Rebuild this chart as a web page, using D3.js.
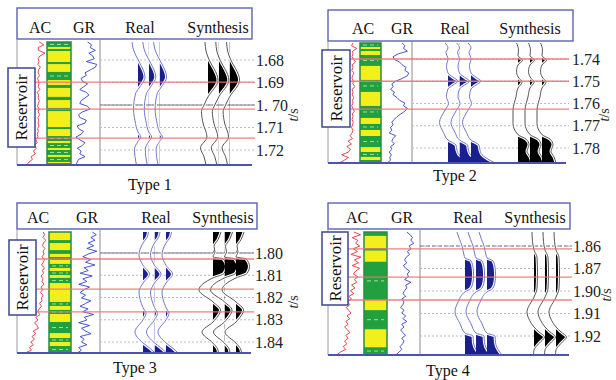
<!DOCTYPE html>
<html>
<head>
<meta charset="utf-8">
<script src="https://cdn.jsdelivr.net/npm/d3@7"></script>
<style>
  html, body { margin: 0; padding: 0; background: #fff; }
  svg { display: block; }
  text { font-family: "Liberation Serif", "DejaVu Serif", serif; }
</style>
</head>
<body>
<svg id="chart" width="616" height="380"></svg>
<script>
// ---------- data ----------
// Depths are measured in tick steps below the first labelled time of each panel.
const trackNames = ["AC", "GR", "Real", "Synthesis"];
const typeLabels = ["Type 1", "Type 2", "Type 3", "Type 4"];
const tickLabels = [
  ["1.68", "1.69", "1. 70", "1.71", "1.72"],
  ["1.74", "1.75", "1.76", "1.77", "1.78"],
  ["1.80", "1.81", "1.82", "1.83", "1.84"],
  ["1.86", "1.87", "1.90", "1.91", "1.92"]
];
// reservoir top / bottom horizons
const horizons = [
  [0.98, 2.18, 3.47],
  [0.0, 1.0, 2.25],
  [0.27, 1.62, 2.65],
  [0.13, 1.38, 2.4]
];
// shale (green) intervals of the lithology column, [top, bottom]
const shale1 = [[-0.8,-0.58],[-0.49,-0.4],[0.09,0.18],[0.53,0.89],[1.11,1.24],[1.64,1.78],[2.13,2.27],[2.98,3.07],[3.38,3.6],[3.69,3.91],[4.0,4.22],[4.31,4.53],[4.58,4.67]];
const shale2 = [[-0.72,-0.54],[-0.45,-0.36],[-0.18,0.31],[0.94,1.48],[2.11,2.65],[2.92,3.19],[3.46,3.96],[4.18,4.4],[4.54,4.67]];
const shale3 = [[-0.58,-0.45],[-0.13,0.04],[0.18,0.31],[0.49,0.67],[0.81,0.99],[1.12,1.35],[2.2,2.38],[2.56,2.74],[3.1,3.6],[3.82,4.0],[4.18,4.49]];
const shale4 = [[-0.62,-0.45],[0.1,0.2],[0.7,2.4],[2.85,3.7],[4.5,4.84]];
// acoustic (AC) log, normalised, evenly sampled top to bottom
const ac1 = [0.75,0.95,0.7,0.72,1.0,0.78,0.7,0.74,0.69,0.8,0.72,0.7,0.76,0.68,0.72,0.74,0.7,0.78,0.66,0.72,0.7,0.75,0.71,0.68,0.74,0.7,0.77,0.69,0.72,0.7,0.74,0.68,0.71,0.66,0.7,0.6,0.66,0.55,0.62,0.5,0.58,0.4,0.45,0.3,0.2];
const ac2 = [0.8,0.74,0.95,0.78,0.8,0.76,0.82,0.9,0.76,0.8,0.75,0.84,0.78,0.76,0.82,0.79,0.88,0.76,0.8,0.77,0.83,0.78,0.8,0.75,0.79,0.86,0.77,0.8,0.76,0.81,0.78,0.74,0.8,0.76,0.68,0.78,0.6,0.74,0.55,0.7,0.62,0.35,0.62,0.45,0.25];
const ac3 = [0.85,0.9,0.84,0.95,0.86,0.82,0.92,0.84,0.88,0.8,0.9,0.85,0.78,0.9,0.82,0.86,0.76,0.84,0.8,0.88,0.76,0.82,0.74,0.84,0.78,0.8,0.7,0.78,0.68,0.62,0.72,0.55,0.64,0.5,0.6,0.66,0.45,0.55,0.4,0.5,0.35,0.45,0.3,0.38,0.12];
const ac4 = [0.72,0.95,0.66,0.86,0.78,0.92,0.7,0.84,0.62,0.96,0.74,0.88,0.66,0.92,0.78,0.7,0.86,0.74,0.82,0.64,0.76,0.6,0.72,0.55,0.64,0.5,0.58,0.46,0.54,0.62,0.48,0.58,0.44,0.52,0.4,0.5,0.58,0.44,0.52,0.4,0.48,0.35,0.44,0.25,0.12];
// gamma-ray (GR) log, normalised
const gr1 = [0.6,0.75,0.7,0.9,0.65,0.8,0.85,0.55,0.95,0.9,0.7,0.5,0.55,0.35,0.4,0.6,0.45,0.3,0.55,0.65,0.5,0.35,0.3,0.6,0.7,0.4,0.25,0.3,0.55,0.5,0.2,0.25,0.45,0.35,0.15,0.3,0.5,0.4,0.2,0.35,0.3,0.5,0.25,0.2,0.15];
const gr2 = [0.7,0.8,0.75,0.9,0.55,0.35,0.4,0.6,0.7,0.85,0.8,0.95,0.9,0.7,0.45,0.3,0.35,0.25,0.4,0.35,0.5,0.6,0.8,0.75,0.9,0.8,0.65,0.5,0.4,0.3,0.35,0.25,0.3,0.2,0.45,0.35,0.3,0.4,0.25,0.3,0.2,0.28,0.22,0.25,0.12];
const gr3 = [0.75,0.9,0.7,0.85,0.6,0.8,0.55,0.92,0.6,0.4,0.7,0.5,0.85,0.45,0.6,0.3,0.75,0.4,0.55,0.25,0.65,0.45,0.3,0.5,0.35,0.7,0.5,0.3,0.6,0.4,0.8,0.45,0.55,0.25,0.65,0.35,0.5,0.7,0.3,0.45,0.35,0.55,0.25,0.35,0.2];
const gr4 = [0.6,0.72,0.8,0.74,0.85,0.68,0.75,0.62,0.7,0.58,0.52,0.6,0.48,0.56,0.7,0.62,0.66,0.52,0.75,0.56,0.6,0.52,0.46,0.56,0.42,0.5,0.46,0.38,0.5,0.42,0.56,0.46,0.6,0.42,0.5,0.38,0.46,0.55,0.42,0.5,0.45,0.36,0.42,0.32,0.2];
// seismic traces: [depth, amplitude]
const real1 = [[-0.8,-0.6],[-0.45,-0.45],[-0.1,-0.1],[0.15,0.2],[0.75,0.7],[1.25,0.1],[1.5,-0.25],[2.2,-0.45],[2.7,-0.3],[3.2,0.0],[3.42,0.28],[3.62,0.0],[3.95,-0.35],[4.3,-0.3],[4.67,-0.15]];
const synth1 = [[-0.8,-0.3],[-0.4,-0.2],[-0.13,0.0],[0.9,1.0],[1.64,0.0],[2.0,-0.4],[2.3,-0.65],[2.8,-0.5],[3.42,-0.1],[3.9,-0.75],[4.3,-0.4],[4.67,-0.2]];
const real2 = [[-0.72,-0.3],[-0.5,0.0],[-0.3,-0.2],[0.0,0.0],[0.3,-0.15],[0.63,0.0],[0.82,0.5],[1.0,1.0],[1.17,0.5],[1.35,0.0],[1.7,-0.15],[2.0,0.05],[2.3,-0.3],[2.85,-0.85],[3.3,-0.45],[3.64,0.0],[3.87,0.8],[4.1,0.9],[4.3,1.1],[4.5,1.7],[4.67,2.4]];
const synth2 = [[-0.72,-0.15],[-0.4,0.05],[-0.15,0.0],[0.05,0.45],[0.27,0.0],[0.55,-0.15],[0.8,0.0],[1.05,0.4],[1.3,0.0],[1.7,-0.2],[2.3,-0.5],[2.9,-0.5],[3.4,0.0],[3.6,0.8],[3.85,1.1],[4.15,0.9],[4.4,1.2],[4.67,1.4]];
const real3 = [[-0.94,0.55],[-0.7,0.4],[-0.45,0.0],[0.1,-0.4],[0.55,0.0],[0.95,0.65],[1.35,0.0],[1.75,-0.4],[2.45,0.0],[2.72,0.3],[3.0,0.0],[3.55,-0.8],[4.04,0.0],[4.25,0.6],[4.49,1.2]];
const synth3 = [[-0.94,0.8],[-0.6,0.5],[-0.3,0.1],[-0.05,0.2],[0.18,0.0],[0.26,1.0],[0.6,1.35],[0.92,1.1],[1.12,0.0],[1.66,-1.4],[2.2,0.0],[2.56,0.75],[3.1,0.0],[3.55,-1.1],[4.05,0.0],[4.3,0.45],[4.49,0.55]];
const real4 = [[-0.62,-0.8],[-0.3,-0.55],[0.0,-0.3],[0.4,-0.1],[0.53,0.0],[0.66,0.6],[1.0,0.82],[1.3,0.86],[1.6,0.8],[1.9,0.55],[2.04,0.0],[2.45,-0.65],[2.93,-1.0],[3.45,-0.5],[3.87,0.0],[4.0,0.8],[4.3,0.85],[4.6,1.1],[4.84,1.5]];
const synth4 = [[-0.62,-0.2],[-0.2,-0.15],[0.18,0.0],[0.5,0.3],[1.2,0.35],[1.9,0.3],[2.27,0.0],[2.93,-0.7],[3.3,-0.45],[3.6,0.0],[3.82,0.5],[4.04,1.05],[4.33,0.5],[4.62,0.0],[4.84,-0.05]];

const shales = [shale1, shale2, shale3, shale4];
const acLogs = [ac1, ac2, ac3, ac4];
const grLogs = [gr1, gr2, gr3, gr4];
const realTraces = [real1, real2, real3, real4];
const synthTraces = [synth1, synth2, synth3, synth4];

// ---------- layout ----------
const panels = [
  { x0: 17, right: 252, hTop: 8, hBot: 39, top: 42, bot: 165, lineEnd: 255, y0: 60, step: 22.5,
    ac: [22, 45], lith: [47, 71], gr: [72, 98], sep: 100,
    realBase: 138, realGap: 10.8, synBase: 208, synGap: 10.8,
    res: [8, 68, 27, 79], labelX: 256, ts: [294, 115], cap: [150, 190],
    hx: [40, 84, 140, 218], hy: 33, rule: { i: 2, dash: null } },
  { x0: 328, right: 573, hTop: 10, hBot: 41, top: 43, bot: 163, lineEnd: 569, y0: 59, step: 22.25,
    ac: [333, 358], lith: [360, 381], gr: [384, 410], sep: 412,
    realBase: 448, realGap: 11.5, synBase: 518, synGap: 12,
    res: [322, 50, 28, 77], labelX: 572, ts: [605, 115], cap: [455, 181],
    hx: [363, 402, 455, 530], hy: 34, rule: null },
  { x0: 17, right: 257, hTop: 203, hBot: 229, top: 232, bot: 353, lineEnd: 254, y0: 253, step: 22.25,
    ac: [22, 47], lith: [49, 71], gr: [72, 99], sep: 100,
    realBase: 143, realGap: 11.5, synBase: 213, synGap: 11.5,
    res: [9, 240, 27, 75], labelX: 255, ts: [294, 302], cap: [135, 373],
    hx: [38, 87, 156, 223], hy: 223, rule: { i: 0, dash: null } },
  { x0: 328, right: 570, hTop: 203, hBot: 229, top: 232, bot: 355, lineEnd: 572, y0: 246, step: 22.5,
    ac: [333, 362], lith: [364, 387], gr: [390, 418], sep: 420,
    realBase: 465, realGap: 11, synBase: 534, synGap: 11,
    res: [322, 232, 26, 73], labelX: 573, ts: [607, 295], cap: [448, 376],
    hx: [357, 402, 468, 535], hy: 223, rule: { i: 0, dash: "4,2" } }
];

const svg = d3.select("#chart");
const amp = d3.scaleLinear().domain([-1, 1]).range([-10, 10]);

panels.forEach((L, p) => {
  const g = svg.append("g");
  const y = d3.scaleLinear().domain([0, 4]).range([L.y0, L.y0 + 4 * L.step]);
  const dTop = y.invert(L.top), dBot = y.invert(L.bot);

  // header box with track names
  g.append("rect")
    .attr("x", L.x0).attr("y", L.hTop)
    .attr("width", L.right - L.x0).attr("height", L.hBot - L.hTop)
    .attr("fill", "#fff").attr("stroke", "#5b62b3").attr("stroke-width", 1.4);
  g.selectAll("text.hdr").data(trackNames).join("text")
    .attr("class", "hdr")
    .attr("x", (d, i) => L.hx[i]).attr("y", L.hy)
    .attr("text-anchor", "middle")
    .attr("font-size", 16).attr("fill", "#111")
    .text(d => d);

  // track borders
  g.append("line").attr("x1", L.x0).attr("x2", L.x0).attr("y1", L.hBot).attr("y2", L.bot)
    .attr("stroke", "#9a9aa6").attr("stroke-width", 1);
  g.append("line").attr("x1", L.sep).attr("x2", L.sep).attr("y1", L.hBot).attr("y2", L.bot)
    .attr("stroke", "#8a8a96").attr("stroke-width", 1);

  // lithology column
  g.append("rect")
    .attr("x", L.lith[0]).attr("y", L.top)
    .attr("width", L.lith[1] - L.lith[0]).attr("height", L.bot - L.top)
    .attr("fill", "#f3ef1c");
  g.selectAll("rect.shale").data(shales[p]).join("rect")
    .attr("class", "shale")
    .attr("x", L.lith[0]).attr("width", L.lith[1] - L.lith[0])
    .attr("y", d => y(d[0])).attr("height", d => y(d[1]) - y(d[0]))
    .attr("fill", "#22a040");
  g.selectAll("line.shale").data(shales[p].filter(d => y(d[1]) - y(d[0]) > 4)).join("line")
    .attr("class", "shale")
    .attr("x1", L.lith[0] + 3).attr("x2", L.lith[1] - 3)
    .attr("y1", d => y((d[0] + d[1]) / 2)).attr("y2", d => y((d[0] + d[1]) / 2))
    .attr("stroke", "#9fe09a").attr("stroke-width", 1).attr("stroke-dasharray", "4,3");
  g.append("rect")
    .attr("x", L.lith[0]).attr("y", L.top)
    .attr("width", L.lith[1] - L.lith[0]).attr("height", L.bot - L.top)
    .attr("fill", "none").attr("stroke", "#2b8c3c").attr("stroke-width", 1.5);

  // well logs
  const drawLog = (vals, range, color) => {
    const x = d3.scaleLinear().domain([0, 1]).range(range);
    const depth = d3.scaleLinear().domain([0, vals.length - 1]).range([dTop, dBot]);
    g.append("path").datum(vals)
      .attr("d", d3.line().x(v => x(v)).y((v, i) => y(depth(i))))
      .attr("fill", "none").attr("stroke", color).attr("stroke-width", 0.9);
  };
  drawLog(acLogs[p], L.ac, "#e0343c");
  drawLog(grLogs[p], L.gr, "#3344c4");

  // time grid
  g.selectAll("line.grid").data(d3.range(tickLabels[p].length)).join("line")
    .attr("class", "grid")
    .attr("x1", L.sep).attr("x2", L.lineEnd)
    .attr("y1", d => y(d)).attr("y2", d => y(d))
    .attr("stroke", "#b4b7cc").attr("stroke-width", 1).attr("stroke-dasharray", "2,2");
  if (L.rule) {
    g.append("line")
      .attr("x1", L.sep).attr("x2", L.lineEnd)
      .attr("y1", y(L.rule.i)).attr("y2", y(L.rule.i))
      .attr("stroke", "#7a7a8a").attr("stroke-width", 1.1)
      .attr("stroke-dasharray", L.rule.dash);
  }

  // wiggle traces with positive lobes filled
  const drawTraces = (knots, base, gap, fill, stroke, tag) => {
    for (let k = 0; k < 3; k++) {
      const b = base + k * gap;
      const id = `clip-${p}-${tag}-${k}`;
      g.append("clipPath").attr("id", id).append("rect")
        .attr("x", b).attr("y", L.top - 2).attr("width", 120).attr("height", L.bot - L.top + 4);
      const area = d3.area().curve(d3.curveMonotoneY)
        .y(d => y(d[0])).x0(b).x1(d => b + amp(d[1]));
      const line = d3.line().curve(d3.curveMonotoneY)
        .y(d => y(d[0])).x(d => b + amp(d[1]));
      g.append("path").datum(knots).attr("d", area)
        .attr("fill", fill).attr("clip-path", `url(#${id})`);
      g.append("path").datum(knots).attr("d", line)
        .attr("fill", "none").attr("stroke", "#fff").attr("stroke-width", 3);
      g.append("path").datum(knots).attr("d", line)
        .attr("fill", "none").attr("stroke", stroke).attr("stroke-width", 1);
    }
  };
  drawTraces(realTraces[p], L.realBase, L.realGap, "#1a1f8e", "#6f78c4", "r");
  drawTraces(synthTraces[p], L.synBase, L.synGap, "#000", "#555", "s");

  // reservoir horizons
  g.selectAll("line.hz").data(horizons[p]).join("line")
    .attr("class", "hz")
    .attr("x1", L.x0).attr("x2", L.lineEnd)
    .attr("y1", d => y(d)).attr("y2", d => y(d))
    .attr("stroke", "#ec7474").attr("stroke-width", 1.3).attr("opacity", 0.9);

  // base line
  g.append("line").attr("x1", L.x0).attr("x2", L.lineEnd - 3)
    .attr("y1", L.bot).attr("y2", L.bot)
    .attr("stroke", "#4b52b0").attr("stroke-width", 2);

  // time axis labels
  const axis = g.append("g").attr("transform", `translate(${L.labelX},0)`)
    .call(d3.axisRight(y).tickValues(d3.range(tickLabels[p].length))
      .tickFormat(i => tickLabels[p][i]).tickSize(0).tickPadding(0));
  axis.select(".domain").remove();
  axis.attr("font-family", null);
  axis.selectAll("text").attr("font-size", 16).attr("fill", "#222");

  const ts = g.append("text")
    .attr("transform", `translate(${L.ts[0]},${L.ts[1]}) rotate(-90)`)
    .attr("text-anchor", "middle").attr("dy", "0.3em")
    .attr("font-size", 14).attr("fill", "#222");
  ts.append("tspan").attr("font-style", "italic").text("t");
  ts.append("tspan").text("/s");

  // reservoir tag
  g.append("rect")
    .attr("x", L.res[0]).attr("y", L.res[1]).attr("width", L.res[2]).attr("height", L.res[3])
    .attr("fill", "#fff").attr("stroke", "#3d4590").attr("stroke-width", 1.5);
  g.append("text")
    .attr("transform", `translate(${L.res[0] + L.res[2] / 2},${L.res[1] + L.res[3] / 2}) rotate(-90)`)
    .attr("text-anchor", "middle").attr("dy", "0.35em")
    .attr("font-size", 17).attr("fill", "#111")
    .text("Reservoir");

  // caption
  g.append("text")
    .attr("x", L.cap[0]).attr("y", L.cap[1])
    .attr("text-anchor", "middle")
    .attr("font-size", 16).attr("fill", "#111")
    .text(typeLabels[p]);
});
</script>
</body>
</html>
